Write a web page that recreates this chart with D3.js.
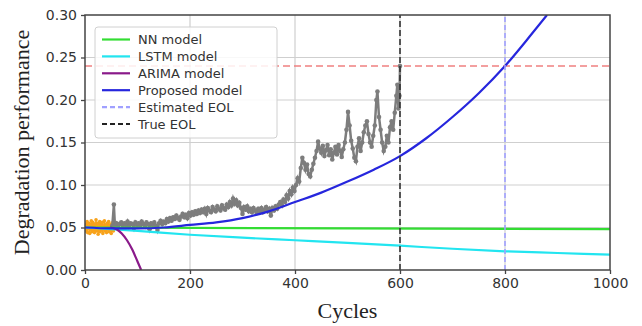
<!DOCTYPE html>
<html><head><meta charset="utf-8">
<script src="https://cdn.jsdelivr.net/npm/d3@7"></script>
<style>body{margin:0;background:#fff;}svg{display:block;}</style>
</head><body>
<svg id="c" width="642" height="326"></svg>
<script>
const xTicks = [0, 200, 400, 600, 800, 1000];
const yTicks = [0.00, 0.05, 0.10, 0.15, 0.20, 0.25, 0.30];
const legendLabels = ["NN model", "LSTM model", "ARIMA model", "Proposed model", "Estimated EOL", "True EOL"];

const orangeVals = [.050,.054,.046,.052,.057,.044,.051,.049,.055,.043,.053,.048,.058,.045,.050,.056,.047,.052,.044,.054,.049,.059,.046,.051,.055,.042,.053,.048,.057,.045,.050,.054,.047,.056,.043,.052,.049,.058,.046,.051,.053,.044,.055,.048,.050,.057,.045,.052,.047,.054,.043,.051,.049,.056,.046,.050];

const grayCycles = [52,55,57,60,63,66,69,72,75,78,81,84,87,90,93,96,99,102,105,108,111,114,117,120,123,126,129,132,135,138,141,144,147,150,153,156,159,162,165,168,171,174,177,180,183,186,189,192,195,198,201,204,207,210,213,216,219,222,225,228,231,234,237,240,243,246,249,252,255,258,261,264,267,270,273,276,279,282,285,288,291,294,297,300,303,306,309,312,315,318,321,324,327,330,333,336,339,342,345,348,351,354,357,360,363,366,369,372,375,378,381,384,387,390,393,396,399,402,405,408,411,414,417,420,423,426,429,432,435,438,441,444,447,450,453,456,459,462,465,468,471,474,477,480,483,486,489,492,495,498,501,504,507,510,513,516,519,522,525,528,531,534,537,540,543,546,549,552,555,557,560,563,566,569,572,575,578,581,584,587,590,593,595,597,599,600];
const grayVals = [.052,.077,.052,.055,.051,.054,.056,.052,.055,.053,.057,.051,.055,.054,.049,.056,.053,.055,.052,.057,.054,.051,.056,.054,.048,.055,.053,.056,.052,.047,.055,.058,.054,.057,.055,.060,.057,.061,.058,.062,.060,.064,.061,.059,.063,.066,.062,.065,.061,.067,.064,.068,.065,.069,.066,.070,.067,.071,.068,.072,.066,.073,.070,.068,.074,.071,.069,.075,.072,.070,.076,.073,.071,.077,.074,.080,.076,.084,.078,.082,.076,.079,.073,.066,.074,.071,.075,.069,.072,.068,.073,.070,.067,.072,.069,.073,.068,.071,.074,.069,.072,.064,.073,.070,.075,.072,.077,.080,.076,.083,.080,.088,.084,.093,.089,.097,.093,.100,.108,.104,.120,.132,.126,.118,.124,.113,.110,.118,.125,.132,.140,.151,.143,.138,.146,.134,.141,.147,.135,.142,.130,.138,.145,.136,.147,.140,.133,.142,.150,.165,.186,.170,.152,.143,.132,.128,.145,.155,.140,.150,.162,.170,.175,.160,.150,.145,.158,.170,.200,.210,.180,.165,.150,.140,.145,.158,.150,.168,.175,.165,.185,.205,.218,.190,.205,.240];

const nnCycles = [0, 500, 1000];
const nnVals = [0.050, 0.049, 0.048];
const lstmCycles = [0, 100, 200, 300, 400, 500, 600, 700, 800, 900, 1000];
const lstmVals = [0.050, 0.046, 0.0415, 0.038, 0.035, 0.032, 0.0286, 0.025, 0.022, 0.020, 0.018];
const arimaCycles = [48, 60, 70, 80, 90, 100, 107];
const arimaVals = [0.050, 0.048, 0.043, 0.035, 0.024, 0.010, 0.000];
const propCycles = [0, 50, 100, 150, 200, 250, 300, 350, 400, 450, 500, 550, 600, 650, 700, 750, 800, 850, 880];
const propVals = [0.050, 0.049, 0.049, 0.050, 0.053, 0.056, 0.061, 0.069, 0.080, 0.091, 0.104, 0.118, 0.134, 0.155, 0.180, 0.208, 0.240, 0.277, 0.300];
const threshold = 0.24;
const estEOL = 800;
const trueEOL = 600;

const svg = d3.select("#c");
const m = {l: 85, r: 32, t: 15, b: 56};
const W = 642, H = 326;
const x = d3.scaleLinear().domain([0, 1000]).range([m.l, W - m.r]);
const y = d3.scaleLinear().domain([0, 0.30]).range([H - m.b, m.t]);

svg.append("defs").append("clipPath").attr("id", "clip")
  .append("rect").attr("x", m.l).attr("y", m.t).attr("width", W - m.l - m.r).attr("height", H - m.t - m.b);

// grid
const g = svg.append("g");
g.selectAll(".gx").data(xTicks.slice(1, -1)).join("line")
  .attr("x1", d => x(d)).attr("x2", d => x(d)).attr("y1", y(0)).attr("y2", y(0.30))
  .attr("stroke", "#cfcfcf").attr("stroke-width", 1.2);
g.selectAll(".gy").data(yTicks.slice(1, -1)).join("line")
  .attr("y1", d => y(d)).attr("y2", d => y(d)).attr("x1", x(0)).attr("x2", x(1000))
  .attr("stroke", "#cfcfcf").attr("stroke-width", 1.2);

const plot = svg.append("g").attr("clip-path", "url(#clip)");
const line = d3.line().x(d => x(d[0])).y(d => y(d[1]));

// threshold
plot.append("line").attr("x1", x(0)).attr("x2", x(1000)).attr("y1", y(threshold)).attr("y2", y(threshold))
  .attr("stroke", "#f08080").attr("stroke-width", 1.5).attr("stroke-dasharray", "7,4");

// orange data
const orangeData = orangeVals.map((v, i) => [i, v]);
plot.append("path").datum(orangeData).attr("d", line).attr("fill", "none").attr("stroke", "#f7a21b").attr("stroke-width", 1.5);
plot.selectAll(".od").data(orangeData).join("circle").attr("cx", d => x(d[0])).attr("cy", d => y(d[1])).attr("r", 1.8).attr("fill", "#f7a21b");

// gray data
const grayData = grayCycles.map((c, i) => [c, grayVals[i]]);
plot.append("path").datum(grayData).attr("d", line).attr("fill", "none").attr("stroke", "#7d7d7d").attr("stroke-width", 2.5);
plot.selectAll(".gd").data(grayData).join("circle").attr("cx", d => x(d[0])).attr("cy", d => y(d[1])).attr("r", 2.3).attr("fill", "#7d7d7d");

// models
const mk = (cs, vs) => cs.map((c, i) => [c, vs[i]]);
plot.append("path").datum(mk(nnCycles, nnVals)).attr("d", line).attr("fill", "none").attr("stroke", "#33dd33").attr("stroke-width", 2.2);
plot.append("path").datum(mk(lstmCycles, lstmVals)).attr("d", line.curve(d3.curveMonotoneX)).attr("fill", "none").attr("stroke", "#22e5f0").attr("stroke-width", 2.2);
plot.append("path").datum(mk(arimaCycles, arimaVals)).attr("d", line.curve(d3.curveMonotoneX)).attr("fill", "none").attr("stroke", "#8a1a8a").attr("stroke-width", 2.2);
plot.append("path").datum(mk(propCycles, propVals)).attr("d", line.curve(d3.curveMonotoneX)).attr("fill", "none").attr("stroke", "#2626dd").attr("stroke-width", 2.2);

// EOL lines
plot.append("line").attr("x1", x(estEOL)).attr("x2", x(estEOL)).attr("y1", y(0)).attr("y2", y(0.30))
  .attr("stroke", "#a0a0ff").attr("stroke-width", 1.6).attr("stroke-dasharray", "5,3");
plot.append("line").attr("x1", x(trueEOL)).attr("x2", x(trueEOL)).attr("y1", y(0)).attr("y2", y(0.30))
  .attr("stroke", "#333").attr("stroke-width", 1.6).attr("stroke-dasharray", "6,3");

// frame
svg.append("rect").attr("x", m.l).attr("y", m.t).attr("width", W - m.l - m.r).attr("height", H - m.t - m.b)
  .attr("fill", "none").attr("stroke", "#444").attr("stroke-width", 1.5);

// axes
const xa = svg.append("g").attr("transform", `translate(0,${y(0)})`)
  .call(d3.axisBottom(x).tickValues(xTicks).tickFormat(d3.format("d")).tickSize(4).tickPadding(4));
const ya = svg.append("g").attr("transform", `translate(${m.l},0)`)
  .call(d3.axisLeft(y).tickValues(yTicks).tickFormat(d3.format(".2f")).tickSize(4).tickPadding(4));
[xa, ya].forEach(a => {
  a.select(".domain").remove();
  a.selectAll(".tick line").attr("stroke", "#444").attr("stroke-width", 1.3);
  a.selectAll("text").attr("font-family", "DejaVu Sans, sans-serif").attr("font-size", 14).attr("fill", "#333");
});

// axis labels
svg.append("text").attr("x", (m.l + W - m.r) / 2).attr("y", 318).attr("text-anchor", "middle")
  .attr("font-family", "Liberation Serif, serif").attr("font-size", 22).attr("fill", "#222").text("Cycles");
svg.append("text").attr("transform", `translate(29,${(m.t + H - m.b) / 2}) rotate(-90)`).attr("text-anchor", "middle")
  .attr("font-family", "Liberation Serif, serif").attr("font-size", 22).attr("fill", "#222").text("Degradation performance");

// legend
const lg = svg.append("g");
lg.append("rect").attr("x", 95).attr("y", 27).attr("width", 182).attr("height", 111).attr("rx", 3)
  .attr("fill", "#fff").attr("fill-opacity", 0.85).attr("stroke", "#d0d0d0");
const legColors = ["#33dd33", "#22e5f0", "#8a1a8a", "#2626dd", "#a0a0ff", "#222"];
const legDash = [null, null, null, null, "5,3", "5,3"];
legendLabels.forEach((t, i) => {
  const yy = 39.5 + i * 16.9;
  lg.append("line").attr("x1", 102).attr("x2", 130).attr("y1", yy).attr("y2", yy)
    .attr("stroke", legColors[i]).attr("stroke-width", 2.2).attr("stroke-dasharray", legDash[i]);
  lg.append("text").attr("x", 138).attr("y", yy + 4.5).attr("font-family", "DejaVu Sans, sans-serif")
    .attr("font-size", 13).attr("fill", "#333").text(t);
});
</script>
</body></html>
